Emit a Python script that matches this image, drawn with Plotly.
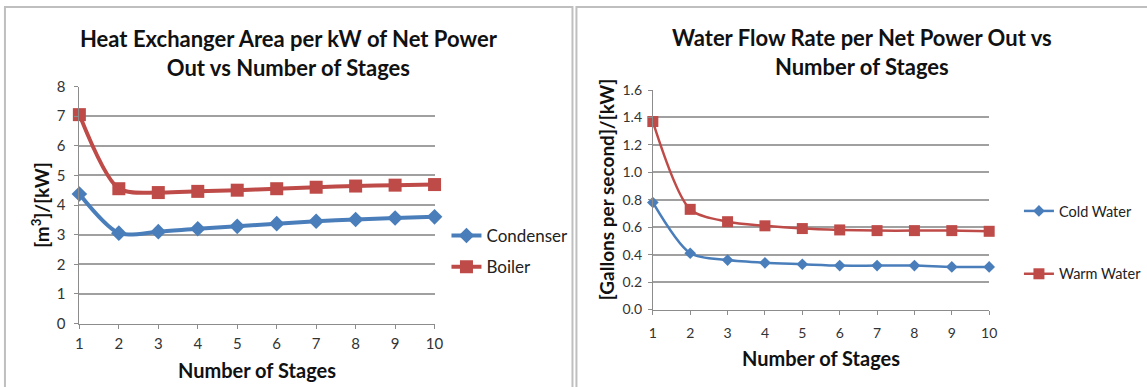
import plotly.graph_objects as go

W, H = 1147, 387

stages = [1, 2, 3, 4, 5, 6, 7, 8, 9, 10]
condenser = [4.37, 3.05, 3.10, 3.20, 3.28, 3.37, 3.45, 3.51, 3.56, 3.60]
boiler = [7.05, 4.55, 4.42, 4.46, 4.50, 4.55, 4.60, 4.64, 4.67, 4.69]
cold_water = [0.78, 0.41, 0.36, 0.34, 0.33, 0.32, 0.32, 0.32, 0.31, 0.31]
warm_water = [1.37, 0.73, 0.64, 0.61, 0.59, 0.58, 0.575, 0.575, 0.575, 0.57]

left_yticks = [0, 1, 2, 3, 4, 5, 6, 7, 8]
right_yticks = [0.0, 0.2, 0.4, 0.6, 0.8, 1.0, 1.2, 1.4, 1.6]

BLUE = "#4A7EBB"
RED = "#BE4B48"
FONT = "Lato"
GRID = "#A0A0A0"

def px(x):
    return x / W

def py(y):
    return 1 - y / H

fig = go.Figure()

fig.add_trace(go.Scatter(x=stages, y=condenser, name="Condenser", mode="lines+markers",
                         line=dict(color=BLUE, width=4, shape="spline", smoothing=0.8),
                         marker=dict(symbol="diamond", size=12, color=BLUE),
                         xaxis="x", yaxis="y", legend="legend", legendgroup="a", cliponaxis=False))
fig.add_trace(go.Scatter(x=stages, y=boiler, name="Boiler", mode="lines+markers",
                         line=dict(color=RED, width=4, shape="spline", smoothing=0.8),
                         marker=dict(symbol="square", size=13, color=RED),
                         xaxis="x", yaxis="y", legend="legend", legendgroup="b", cliponaxis=False))
fig.add_trace(go.Scatter(x=stages, y=cold_water, name="Cold Water", mode="lines+markers",
                         line=dict(color=BLUE, width=2.5, shape="spline", smoothing=0.8),
                         marker=dict(symbol="diamond", size=9, color=BLUE),
                         xaxis="x2", yaxis="y2", legend="legend2", legendgroup="c", cliponaxis=False))
fig.add_trace(go.Scatter(x=stages, y=warm_water, name="Warm Water", mode="lines+markers",
                         line=dict(color=RED, width=2.5, shape="spline", smoothing=0.8),
                         marker=dict(symbol="square", size=11, color=RED),
                         xaxis="x2", yaxis="y2", legend="legend2", legendgroup="d", cliponaxis=False))

axis_common = dict(showline=True, linecolor="#8C8C8C", linewidth=1, ticks="outside",
                   ticklen=4, tickcolor="#8C8C8C", zeroline=False, automargin=False)

TITLE_FONT = dict(size=20, color="#111111", weight="bold")

fig.update_layout(
    width=W, height=H,
    margin=dict(l=0, r=0, t=0, b=0),
    paper_bgcolor="white", plot_bgcolor="white",
    font=dict(family=FONT, color="#222222"),
    xaxis=dict(domain=[px(80), px(438)], range=[1, 10], tickvals=stages, showgrid=False,
               tickfont=dict(size=15, color="#333333"), anchor="y", ticklabelstandoff=2,
               title=dict(text="Number of Stages", font=TITLE_FONT, standoff=13),
               **axis_common),
    yaxis=dict(domain=[py(323.5), py(86.5)], range=[0, 8], tickvals=left_yticks,
               showgrid=True, gridcolor=GRID, gridwidth=1.5, anchor="x", ticklabelstandoff=6,
               tickfont=dict(size=15, color="#333333"),
               title=dict(text="[m<sup>3</sup>]/[kW]", font=dict(size=19, color="#111111", weight="bold"),
                          standoff=2),
               **axis_common),
    xaxis2=dict(domain=[px(658), px(997)], range=[1, 10], tickvals=stages, showgrid=False,
                tickfont=dict(size=14, color="#333333"), anchor="y2", ticklabelstandoff=7,
                title=dict(text="Number of Stages", font=TITLE_FONT, standoff=11),
                **axis_common),
    yaxis2=dict(domain=[py(309.5), py(90)], range=[0, 1.6], tickvals=right_yticks,
                tickformat=".1f", showgrid=True, gridcolor=GRID, gridwidth=1.5, anchor="x2",
                tickfont=dict(size=14, color="#333333"), ticklabelstandoff=3,
                **axis_common),
    legend=dict(x=px(450), y=py(218), xanchor="left", yanchor="top", traceorder="grouped",
                tracegroupgap=6, itemwidth=30, font=dict(size=17, color="#222222"),
                bgcolor="rgba(0,0,0,0)"),
    legend2=dict(x=px(1027), y=py(195), xanchor="left", yanchor="top", traceorder="grouped",
                 tracegroupgap=41, itemwidth=30, font=dict(size=14.5, color="#222222"),
                 bgcolor="rgba(0,0,0,0)"),
    shapes=[
        dict(type="rect", xref="paper", yref="paper", x0=px(5), y0=py(400), x1=px(577), y1=py(7),
             line=dict(color="#BFBFBF", width=2), fillcolor="rgba(0,0,0,0)", layer="below"),
        dict(type="rect", xref="paper", yref="paper", x0=px(581), y0=py(400), x1=px(1160), y1=py(7),
             line=dict(color="#BFBFBF", width=2), fillcolor="rgba(0,0,0,0)", layer="below"),
    ],
    annotations=[
        dict(text="Heat Exchanger Area per kW of Net Power<br>Out vs Number of Stages",
             xref="paper", yref="paper", x=px(291), y=py(53), xanchor="center", yanchor="middle",
             showarrow=False, font=dict(size=22, color="#111111", weight="bold")),
        dict(text="Water Flow Rate per Net Power Out vs<br>Number of Stages",
             xref="paper", yref="paper", x=px(869), y=py(52), xanchor="center", yanchor="middle",
             showarrow=False, font=dict(size=22, color="#111111", weight="bold")),
        dict(text="[Gallons per second]/[kW]", textangle=-90,
             xref="paper", yref="paper", x=px(611), y=py(190), xanchor="center", yanchor="middle",
             showarrow=False, font=dict(size=19, color="#111111", weight="bold")),
    ],
)

fig.write_html("out.html")
